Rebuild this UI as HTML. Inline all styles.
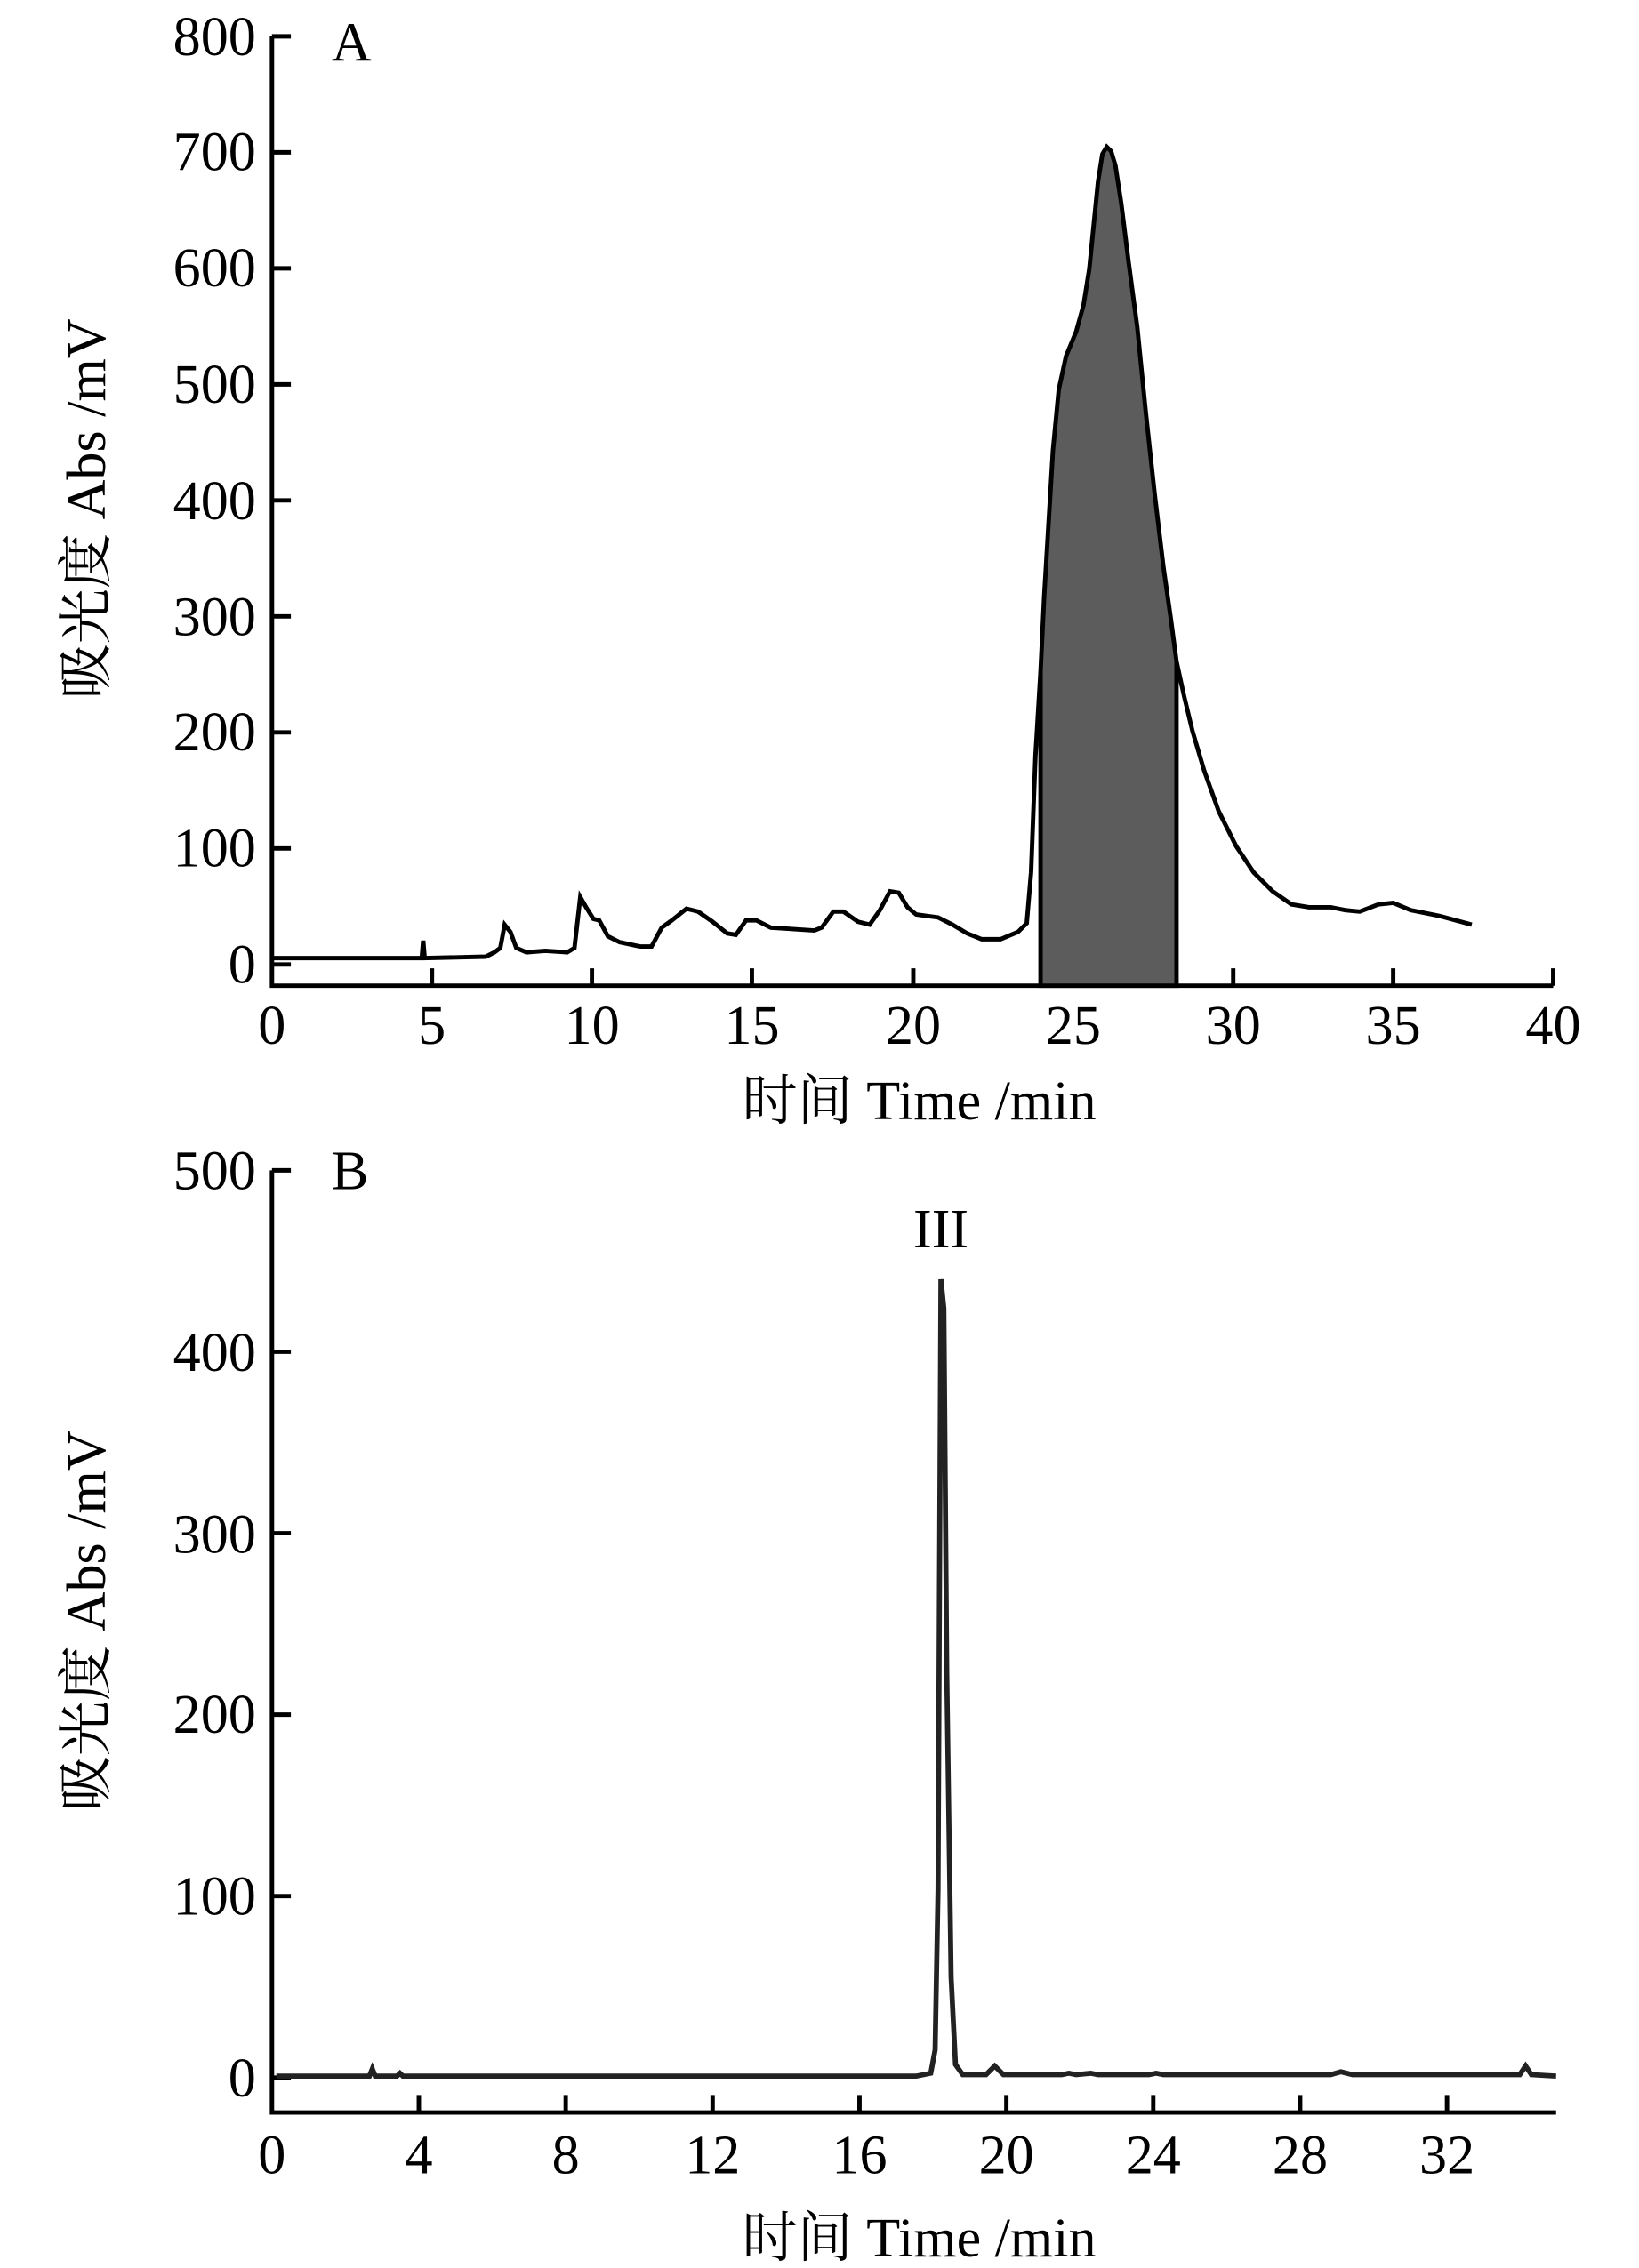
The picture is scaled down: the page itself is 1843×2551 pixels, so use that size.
<!DOCTYPE html>
<html><head><meta charset="utf-8"><style>
html,body{margin:0;padding:0;background:#fff}
svg{display:block}
text{font-family:"Liberation Serif","Noto Serif CJK SC",serif;fill:#000}
</style></head><body>
<svg width="1843" height="2551" viewBox="0 0 1127 1560" xmlns="http://www.w3.org/2000/svg">
<rect width="1127" height="1560" fill="#fff"/>
<!-- Panel A -->
<g stroke="#000" stroke-width="3" fill="none">
<path d="M187,25 V678 H1068"/>
<path d="M187,25 h13 M187,104.8 h13 M187,184.6 h13 M187,264.4 h13 M187,344.2 h13 M187,424 h13 M187,503.8 h13 M187,583.6 h13 M187,663.4 h13"/>
<path d="M297,678 v-12 M407,678 v-12 M517,678 v-12 M628,678 v-12 M738,678 v-12 M848,678 v-12 M958,678 v-12 M1068,678 v-12"/>
</g>
<g font-size="38" text-anchor="end">
<text x="176" y="38">800</text><text x="176" y="117">700</text><text x="176" y="197">600</text>
<text x="176" y="277">500</text><text x="176" y="357">400</text><text x="176" y="437">300</text>
<text x="176" y="516">200</text><text x="176" y="596">100</text><text x="176" y="676">0</text>
</g>
<g font-size="38" text-anchor="middle">
<text x="187" y="718">0</text><text x="297" y="718">5</text><text x="407" y="718">10</text><text x="517" y="718">15</text>
<text x="628" y="718">20</text><text x="738" y="718">25</text><text x="848" y="718">30</text><text x="958" y="718">35</text><text x="1068" y="718">40</text>
<text x="632" y="770">时间 Time /min</text>
</g>
<text x="228" y="42" font-size="38">A</text>
<text transform="translate(72,350) rotate(-90)" font-size="38" text-anchor="middle">吸光度 Abs /mV</text>
<path fill="#5c5c5c" stroke="#000" stroke-width="3" d="M715.5,678 L715.5,462 L718,410 L721,360 L724,310 L728,268 L733,245 L740,228 L745,210 L749,185 L752,155 L755,125 L758,106 L761,101 L764,104 L767,114 L771,140 L776,180 L782,225 L788,285 L794,340 L800,390 L805,425 L809,455 L809,678 Z"/>
<path fill="none" stroke="#000" stroke-width="3" d="M187,659 L290,659 L291,647 L292,659 L334,658 L340,655 L344,652 L347,636 L351,641 L355,652 L362,655 L375,654 L390,655 L395,652 L399,617 L403,624 L408,632 L412,633 L418,644 L426,648 L440,651 L448,651 L455,638 L462,633 L472,625 L480,627 L490,634 L500,642 L506,643 L513,633 L520,633 L530,638 L545,639 L560,640 L565,638 L573,627 L580,627 L590,634 L598,636 L605,626 L612,613 L618,614 L624,624 L630,629 L645,631 L655,636 L665,642 L675,646 L688,646 L700,641 L706,635 L709,600 L712,520 L715.5,462 M809,455 L814,478 L820,503 L828,530 L838,558 L850,582 L862,600 L875,613 L888,622 L900,624 L915,624 L925,626 L935,627 L948,622 L958,621 L970,626 L990,630 L1012,636"/>
<!-- Panel B -->
<g stroke="#000" stroke-width="3" fill="none">
<path d="M187,805 V1453 H1070"/>
<path d="M187,805 h13 M187,929.8 h13 M187,1054.6 h13 M187,1179.4 h13 M187,1304.2 h13 M187,1429 h13"/>
<path d="M288,1453 v-12 M389,1453 v-12 M490,1453 v-12 M591,1453 v-12 M692,1453 v-12 M793,1453 v-12 M894,1453 v-12 M995,1453 v-12"/>
</g>
<g font-size="38" text-anchor="end">
<text x="176" y="818">500</text><text x="176" y="943">400</text><text x="176" y="1068">300</text>
<text x="176" y="1192">200</text><text x="176" y="1317">100</text><text x="176" y="1442">0</text>
</g>
<g font-size="38" text-anchor="middle">
<text x="187" y="1495">0</text><text x="288" y="1495">4</text><text x="389" y="1495">8</text><text x="490" y="1495">12</text>
<text x="591" y="1495">16</text><text x="692" y="1495">20</text><text x="793" y="1495">24</text><text x="894" y="1495">28</text><text x="995" y="1495">32</text>
<text x="632" y="1552">时间 Time /min</text>
<text x="647" y="858">III</text>
</g>
<text x="228" y="818" font-size="38">B</text>
<text transform="translate(72,1115) rotate(-90)" font-size="38" text-anchor="middle">吸光度 Abs /mV</text>
<path fill="none" stroke="#222" stroke-width="3.5" d="M190,1428 L254,1428 L256,1423 L258,1428 L273,1428 L275,1426 L277,1428 L590,1428 L630,1428 L640,1426 L643,1410 L645,1300 L647,880 L649,900 L651,1150 L654,1360 L657,1420 L662,1427 L678,1427 L684,1421 L690,1427 L730,1427 L735,1426 L740,1427 L750,1426 L755,1427 L790,1427 L795,1426 L800,1427 L915,1427 L922,1425 L930,1427 L1045,1427 L1049,1421 L1053,1427 L1070,1428"/>
</svg>
</body></html>
